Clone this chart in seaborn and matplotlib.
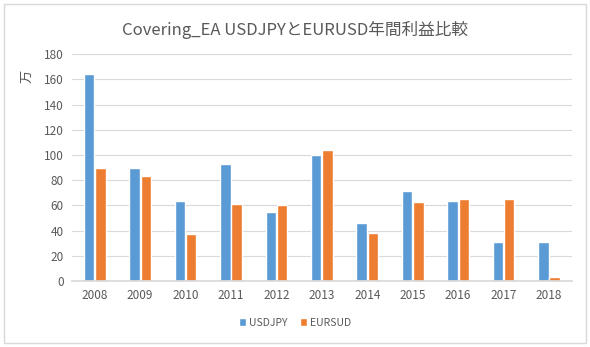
import matplotlib
matplotlib.use("Agg")
import matplotlib.pyplot as plt
import seaborn as sns
import pandas as pd
from matplotlib.patches import Rectangle

years = ["2008", "2009", "2010", "2011", "2012", "2013", "2014", "2015", "2016", "2017", "2018"]
usdjpy = [164.2, 89.6, 63.4, 92.8, 54.7, 99.9, 46.0, 71.4, 63.4, 30.9, 30.9]
eursud = [89.6, 83.3, 37.3, 61.1, 60.3, 103.9, 38.1, 62.6, 65.0, 65.0, 3.2]
series_names = ["USDJPY", "EURSUD"]
title = "Covering_EA USDJPYとEURUSD年間利益比較"
ylabel = "万"

df = pd.DataFrame({
    "year": years * 2,
    "value": usdjpy + eursud,
    "series": [series_names[0]] * len(years) + [series_names[1]] * len(years),
})

sns.set_theme(style="white")
plt.rcParams['font.family'] = ['Noto Sans CJK JP', 'DejaVu Sans']

fig = plt.figure(figsize=(5.9, 3.47), dpi=100)
ax = fig.add_axes([0.122, 0.190, 0.847, 0.654])

sns.barplot(data=df, x="year", y="value", hue="series", ax=ax,
            palette=["#5B9BD5", "#ED7D31"], width=0.5, gap=0.08,
            saturation=1, errorbar=None)

ax.set_ylim(0, 180)
ax.set_yticks(range(0, 181, 20))
ax.set_xlim(-0.5, len(years) - 0.5)
ax.yaxis.grid(True, color="#D9D9D9", linewidth=0.8)
ax.set_axisbelow(True)
for s in ["top", "right", "left"]:
    ax.spines[s].set_visible(False)
ax.spines["bottom"].set_color("#D9D9D9")
ax.tick_params(axis="both", length=0, labelsize=8.5, labelcolor="#595959", pad=6)
ax.set_xlabel("")
ax.set_ylabel("")

fig.text(0.045, 0.78, ylabel, rotation=90, fontsize=9.5, color="#595959",
         ha="center", va="center")
fig.text(0.5, 0.915, title, fontsize=12, color="#595959", ha="center", va="center")

ax.legend(loc="center", bbox_to_anchor=(0.5, 0.07), bbox_transform=fig.transFigure,
          ncol=2, frameon=False, fontsize=7.5, handlelength=0.7, handleheight=0.7,
          columnspacing=1.2, handletextpad=0.3, labelcolor="#595959")

fig.patches.append(Rectangle((4 / 590, 1 - 343 / 347), 582 / 590, 339 / 347,
                             transform=fig.transFigure, fill=False,
                             edgecolor="#D9D9D9", linewidth=1))

fig.savefig("out.png", dpi=100)
